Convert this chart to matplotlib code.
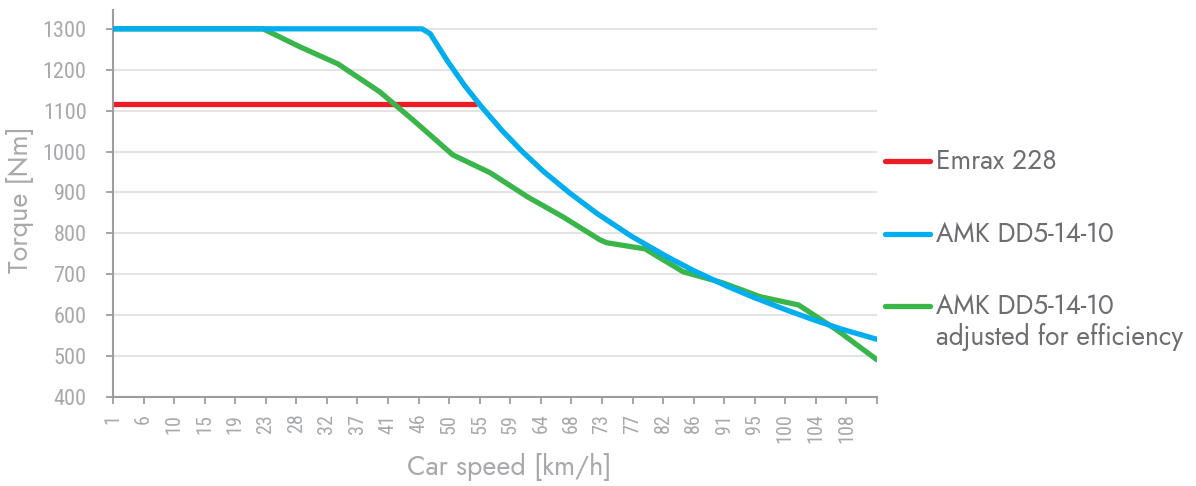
import matplotlib
matplotlib.use("Agg")
import matplotlib.pyplot as plt
from matplotlib.lines import Line2D
import numpy as np

# x axis labels (car speed, km/h), evenly spaced from 1 to 113 km/h
tick_labels = ["1", "6", "10", "15", "19", "23", "28", "32", "37", "41", "46", "50", "55",
               "59", "64", "68", "73", "77", "82", "86", "91", "95", "100", "104", "108", ""]

# Emrax 228
emrax_speed = [1, 54.4]
emrax_torque = [1115, 1115]

# AMK DD5-14-10
amk_speed = [1, 46.3, 47.5, 50, 52.6, 55, 58, 61, 64, 68, 72, 77, 82, 86, 91, 95, 100, 104, 108, 113]
amk_torque = [1300, 1300, 1288, 1222, 1160, 1110, 1052, 1000, 953, 898, 848, 793, 745, 710,
              671, 643, 611, 587, 565, 541]

# AMK DD5-14-10 adjusted for efficiency
eff_speed = [1, 23, 28.4, 34, 40.1, 45, 50.8, 56.3, 61.8, 67, 72.4, 73.4, 79, 84.6, 90.4,
             95.9, 101.5, 107.1, 113]
eff_torque = [1300, 1300, 1256, 1214, 1146, 1077, 992, 948, 889, 840, 784, 777, 762, 706,
              679, 645, 625, 564, 491]

RED = "#ed1c24"
BLUE = "#00aeef"
GREEN = "#39b54a"
GREY = "#a7a9ac"
DARK = "#6d6e71"
narrow = ["Roboto Condensed", "DejaVu Sans"]
geo = ["Jost", "Lato", "DejaVu Sans"]

fig = plt.figure(figsize=(11.96, 4.86), dpi=100)
ax = fig.add_axes([113 / 1196, 1 - 397 / 486, 764 / 1196, 387 / 486])

lw = 3.8
ax.plot(eff_speed, eff_torque, color=GREEN, lw=lw, solid_capstyle="round", zorder=3)
ax.plot(amk_speed, amk_torque, color=BLUE, lw=lw, solid_capstyle="round", zorder=4)
ax.plot(emrax_speed, emrax_torque, color=RED, lw=lw, solid_capstyle="butt", zorder=2)

ax.set_xlim(1, 113)
ax.set_ylim(400, 1346)
ax.set_xticks(np.linspace(1, 113, len(tick_labels)))
ax.set_xticklabels(tick_labels, rotation=90, family=narrow, fontsize=14.5, color=GREY)
ax.set_yticks(np.arange(400, 1301, 100))
ax.set_yticklabels([str(v) for v in range(400, 1301, 100)], family=narrow, fontsize=16, color=GREY)
ax.tick_params(axis="x", direction="out", length=5, width=1.3, color="#9d9d9d", pad=7)
ax.tick_params(axis="y", direction="out", length=5, width=1.3, color="#9d9d9d", pad=14)

ax.grid(axis="y", color="#e4e4e4", lw=1.5)
ax.set_axisbelow(True)
for s in ["top", "right"]:
    ax.spines[s].set_visible(False)
for s in ["left", "bottom"]:
    ax.spines[s].set_color("#9d9d9d")
    ax.spines[s].set_linewidth(1.5)

ax.set_xlabel("Car speed [km/h]", family=geo, fontsize=19.5, color=GREY, va="center")
ax.xaxis.set_label_coords(0.518, -0.181)
ax.set_ylabel("Torque [Nm]", family=geo, fontsize=19.5, color=GREY, va="center")
ax.yaxis.set_label_coords(-0.122, 0.51)

# legend drawn by hand so the two-line entry lines up with its first line
entries = [(RED, "Emrax 228", 161), (BLUE, "AMK DD5-14-10", 234),
           (GREEN, "AMK DD5-14-10", 306)]
for col, txt, ypx in entries:
    yf = 1 - ypx / 486
    fig.add_artist(Line2D([885 / 1196, 930 / 1196], [yf, yf], color=col, lw=lw,
                          solid_capstyle="round", transform=fig.transFigure))
    fig.text(936 / 1196, yf, txt, family=geo, fontsize=19, color=DARK, va="center")
fig.text(936 / 1196, 1 - 337 / 486, "adjusted for efficiency", family=geo, fontsize=19,
         color=DARK, va="center")

fig.savefig("out.png", dpi=100)
